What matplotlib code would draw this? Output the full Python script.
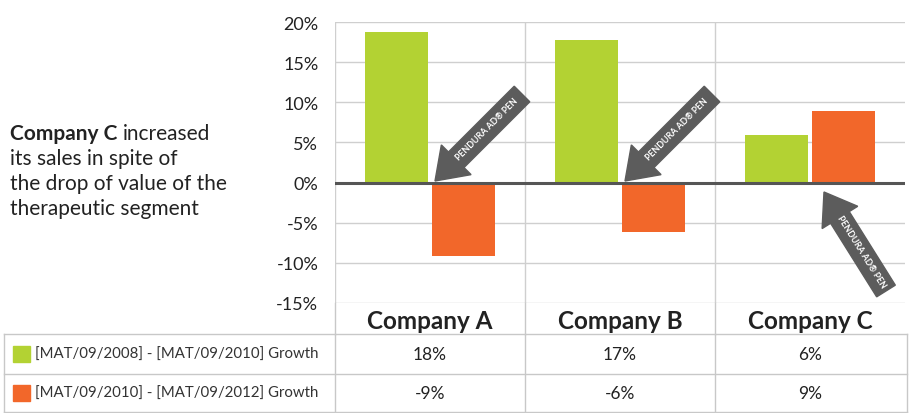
import numpy as np
import matplotlib.pyplot as plt
from matplotlib.patches import FancyArrow, Rectangle

plt.rcParams['font.family'] = ['Lato', 'DejaVu Sans']

# Données
companies = ["Company A", "Company B", "Company C"]
growth_08_10 = [18.8, 17.8, 5.9]
growth_10_12 = [-9.2, -6.1, 8.9]
table_08_10 = ["18%", "17%", "6%"]
table_10_12 = ["-9%", "-6%", "9%"]
series_labels = ["[MAT/09/2008] - [MAT/09/2010] Growth",
                 "[MAT/09/2010] - [MAT/09/2012] Growth"]
yticks = [-15, -10, -5, 0, 5, 10, 15, 20]

green = "#b3d233"
orange = "#f2672a"
W, H = 909, 414

fig = plt.figure(figsize=(W / 100, H / 100), dpi=100)

# Axe principal (pixels : x 335-905, y 23-304)
ax = fig.add_axes([335 / W, (H - 304) / H, 570 / W, 281 / H])
x = np.arange(len(companies))
bw = 0.33
ax.bar(x - 0.175, growth_08_10, bw, color=green, zorder=3)
ax.bar(x + 0.175, growth_10_12, bw, color=orange, zorder=3)
ax.set_xlim(-0.5, 2.5)
ax.set_ylim(-15, 20)
ax.set_yticks(yticks)
ax.set_yticklabels([f"{v}%" for v in yticks], fontsize=13, color="#222222")
ax.set_xticks([])
ax.tick_params(axis="y", length=0, pad=12)
for v in yticks:
    ax.axhline(v, color="#cfcfcf", lw=1, zorder=1)
for v in [-0.5, 0.5, 1.5]:
    ax.axvline(v, color="#cfcfcf", lw=1, zorder=1)
ax.axhline(0, color="#555555", lw=2.2, zorder=4)
for s in ax.spines.values():
    s.set_visible(False)

# Calque en pixels pour le tableau, le texte et les flèches
ov = fig.add_axes([0, 0, 1, 1], zorder=5)
ov.set_xlim(0, W)
ov.set_ylim(H, 0)
ov.axis("off")

col_x = [335, 525, 715, 907]
centers = [430, 620, 810]
line_col = "#c8c8c8"
# lignes verticales de l'en-tête
for cx in col_x[:3]:
    ov.plot([cx, cx], [304, 335], color=line_col, lw=1)
for c, name in zip(centers, companies):
    ov.text(c, 322, name, ha="center", va="center", fontsize=17.5,
            fontweight="bold", color="#222222")
# tableau
for yy in [335, 375, 413]:
    ov.plot([4, 907], [yy, yy], color=line_col, lw=1)
for xx in [4] + col_x:
    ov.plot([xx, xx], [335, 413], color=line_col, lw=1)

rows = [(355, green, table_08_10, series_labels[0]),
        (394, orange, table_10_12, series_labels[1])]
for yy, col, vals, lab in rows:
    ov.add_patch(Rectangle((13, yy - 8), 17, 16, color=col))
    ov.text(35, yy, lab, ha="left", va="center", fontsize=10.8, color="#333333")
    for c, v in zip(centers, vals):
        ov.text(c, yy, v, ha="center", va="center", fontsize=12.5, color="#222222")

# Texte de gauche
fs = 15
t = ov.text(10, 140, "Company C", fontsize=fs, fontweight="bold",
            color="#222222", va="baseline")
fig.canvas.draw()
bb = t.get_window_extent()
x_end = ov.transData.inverted().transform((bb.x1, bb.y0))[0]
ov.text(x_end + 5, 140, "increased", fontsize=fs, color="#222222", va="baseline")
for yy, line in zip([165, 190, 215], ["its sales in spite of",
                                      "the drop of value of the",
                                      "therapeutic segment"]):
    ov.text(10, yy, line, fontsize=fs, color="#222222", va="baseline")

# Flèches "PENDURA AD® PEN"
arrows = [((522, 95), (435, 182)), ((712, 95), (625, 182)),
          ((886, 292), (824, 193))]
for (x0, y0), (x1, y1) in arrows:
    ov.add_patch(FancyArrow(x0, y0, x1 - x0, y1 - y0, width=22,
                            head_width=42, head_length=30,
                            length_includes_head=True,
                            color="#5c5c5c", zorder=6))
    ang = np.degrees(np.arctan2(-(y0 - y1), x0 - x1))
    if ang > 90:
        ang -= 180
    if ang < -90:
        ang += 180
    mx = x0 + 0.4 * (x1 - x0)
    my = y0 + 0.4 * (y1 - y0)
    ov.text(mx, my, "PENDURA AD\u00ae PEN", rotation=ang, rotation_mode="anchor",
            ha="center", va="center", fontsize=6.3, color="white",
            fontweight="bold", zorder=7)

fig.savefig("out.png", dpi=100)
